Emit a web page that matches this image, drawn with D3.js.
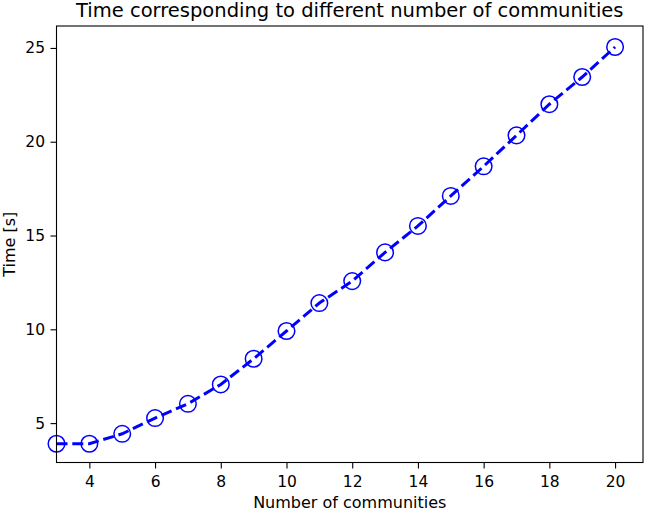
<!DOCTYPE html>
<html>
<head>
<meta charset="utf-8">
<script src="https://cdn.jsdelivr.net/npm/d3@7"></script>
<style>
  html, body { margin: 0; padding: 0; background: #fff; }
  svg { display: block; font-family: "DejaVu Sans", sans-serif; }
</style>
</head>
<body>
<div id="chart"></div>
<script>
// Données
const communities = [3, 4, 5, 6, 7, 8, 9, 10, 11, 12, 13, 14, 15, 16, 17, 18, 19, 20];
const times       = [3.9, 3.9, 4.43, 5.27, 6.03, 7.06, 8.43, 9.91, 11.4, 12.57, 14.1, 15.51, 17.11, 18.69, 20.34, 22.0, 23.45, 25.05];
const xTicks      = [4, 6, 8, 10, 12, 14, 16, 18, 20];
const yTicks      = [5, 10, 15, 20, 25];

const W = 645, H = 512;
const margin = { top: 26, right: 2, bottom: 49.5, left: 56.5 };

const svg = d3.select('#chart').append('svg')
    .attr('width', W)
    .attr('height', H);

const x = d3.scaleLinear()
    .domain([3, 20.85])
    .range([margin.left, W - margin.right]);

const y = d3.scaleLinear()
    .domain([2.9, 26.17])
    .range([H - margin.bottom, margin.top]);

// ── Courbe ────────────────────────────────────────────────────────────────
const line = d3.line()
    .x((d, i) => x(communities[i]))
    .y(d => y(d));

const plot = svg.append('g');

plot.append('path')
    .datum(times)
    .attr('d', line)
    .attr('fill', 'none')
    .attr('stroke', '#0000ff')
    .attr('stroke-width', 3)
    .attr('stroke-dasharray', '11,4.8');

plot.selectAll('circle')
    .data(times)
    .join('circle')
    .attr('cx', (d, i) => x(communities[i]))
    .attr('cy', d => y(d))
    .attr('r', 8.3)
    .attr('fill', 'none')
    .attr('stroke', '#0000ff')
    .attr('stroke-width', 1.5);

// ── Axes ──────────────────────────────────────────────────────────────────
const xAxis = svg.append('g')
    .attr('transform', `translate(0,${H - margin.bottom})`)
    .call(d3.axisBottom(x).tickValues(xTicks).tickSize(6).tickPadding(7.5));

const yAxis = svg.append('g')
    .attr('transform', `translate(${margin.left},0)`)
    .call(d3.axisLeft(y).tickValues(yTicks).tickSize(6).tickPadding(5.5));

[xAxis, yAxis].forEach(g => {
    g.select('.domain').remove();
    g.selectAll('line').attr('stroke', '#000').attr('stroke-width', 1.1);
    g.selectAll('text')
        .attr('fill', '#000')
        .style('font-size', '15.5px')
        .style('font-family', '"DejaVu Sans", sans-serif');
});

// Cadre
svg.append('rect')
    .attr('x', margin.left)
    .attr('y', margin.top)
    .attr('width', W - margin.right - margin.left)
    .attr('height', H - margin.bottom - margin.top)
    .attr('fill', 'none')
    .attr('stroke', '#000')
    .attr('stroke-width', 1.1);

// ── Textes ────────────────────────────────────────────────────────────────
svg.append('text')
    .attr('x', (margin.left + W - margin.right) / 2)
    .attr('y', 17)
    .attr('text-anchor', 'middle')
    .style('font-size', '19.5px')
    .text('Time corresponding to different number of communities');

svg.append('text')
    .attr('x', (margin.left + W - margin.right) / 2)
    .attr('y', 508)
    .attr('text-anchor', 'middle')
    .style('font-size', '16px')
    .text('Number of communities');

svg.append('text')
    .attr('transform', `translate(15,${(margin.top + H - margin.bottom) / 2}) rotate(-90)`)
    .attr('text-anchor', 'middle')
    .style('font-size', '16px')
    .text('Time [s]');
</script>
</body>
</html>
